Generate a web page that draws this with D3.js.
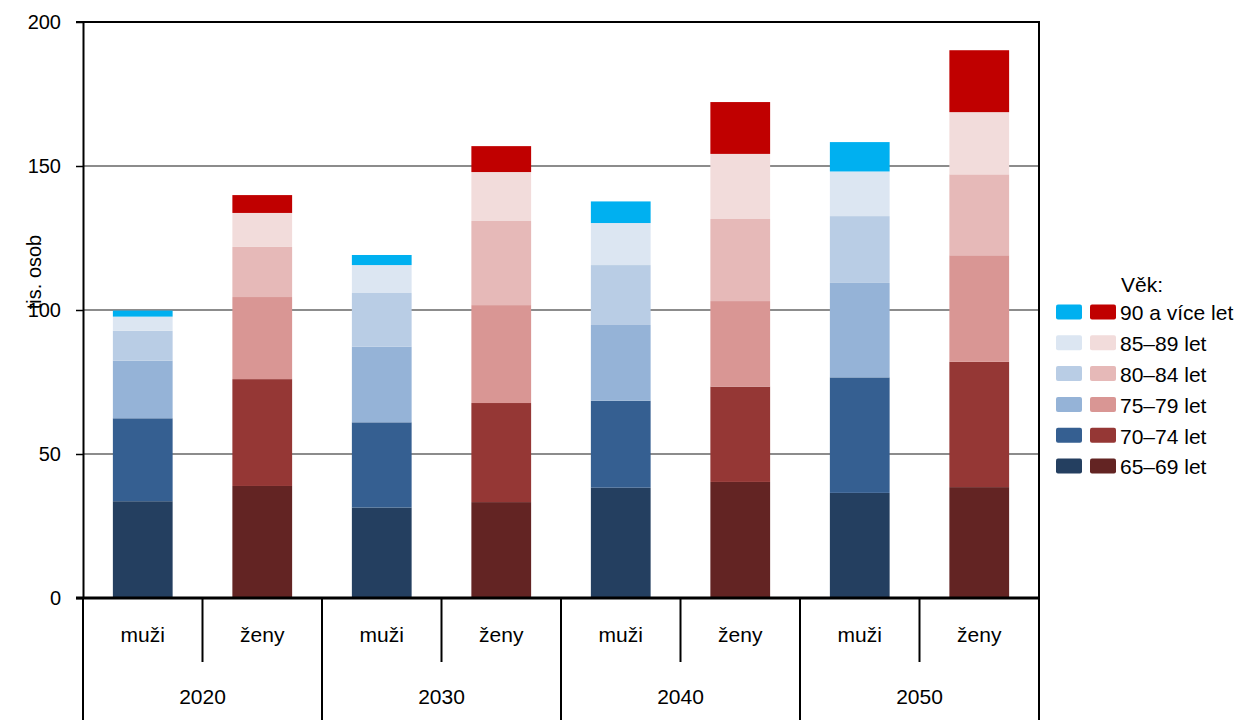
<!DOCTYPE html>
<html>
<head>
<meta charset="utf-8">
<script src="https://cdn.jsdelivr.net/npm/d3@7"></script>
<style>
  body { margin: 0; background: #fff; }
  svg { display: block; font-family: "Liberation Sans", Arial, sans-serif; }
</style>
</head>
<body>
<svg id="chart" width="1237" height="720"></svg>
<script>
// ---- Data ----
const years = ["2020", "2030", "2040", "2050"];
const sexes = ["muži", "ženy"];
const ageGroups = ["65–69 let", "70–74 let", "75–79 let", "80–84 let", "85–89 let", "90 a více let"];
// values in thousands, per age group (order of ageGroups), per year
const muzi = {
  "2020": [33.6, 28.8, 20.0, 10.4, 4.9, 2.1],
  "2030": [31.4, 29.6, 26.3, 18.6, 9.7, 3.5],
  "2040": [38.3, 30.2, 26.3, 20.8, 14.6, 7.5],
  "2050": [36.5, 40.1, 32.8, 23.2, 15.5, 10.2]
};
const zeny = {
  "2020": [38.9, 37.1, 28.5, 17.4, 11.8, 6.2],
  "2030": [33.3, 34.4, 34.0, 29.2, 17.0, 9.0],
  "2040": [40.3, 33.1, 29.7, 28.5, 22.6, 18.0],
  "2050": [38.5, 43.5, 37.0, 28.1, 21.6, 21.5]
};
const yTicks = [0, 50, 100, 150, 200];
const blueColors = ["#243F60", "#355F91", "#95B3D7", "#B9CDE5", "#DCE6F2", "#00B0F0"];
const redColors  = ["#632423", "#953735", "#D99694", "#E6B9B8", "#F2DCDB", "#C00000"];

// ---- Layout ----
const svg = d3.select("#chart");
const plotLeft = 83, plotRight = 1039, plotTop = 22, zeroY = 598, bottomEdge = 720;
const fontSize = 21;
const tickFontSize = 20;

const cats = [];
years.forEach(yr => sexes.forEach(s => cats.push({year: yr, sex: s, key: yr + "|" + s})));

const x = d3.scaleBand().domain(cats.map(c => c.key)).range([plotLeft, plotRight]).paddingInner(0.5).paddingOuter(0.25);
const y = d3.scaleLinear().domain([0, 200]).range([zeroY, plotTop]);

// gridlines
svg.append("g").selectAll("line").data(yTicks.filter(t => t > 0 && t < 200)).join("line")
  .attr("x1", plotLeft).attr("x2", plotRight)
  .attr("y1", d => y(d)).attr("y2", d => y(d))
  .attr("stroke", "#8c8c8c").attr("stroke-width", 2);

// bars
const barsG = svg.append("g");
cats.forEach(c => {
  const vals = c.sex === "muži" ? muzi[c.year] : zeny[c.year];
  const cols = c.sex === "muži" ? blueColors : redColors;
  let cum = 0;
  const segs = vals.map((v, i) => { const s = {y0: cum, y1: cum + v, color: cols[i]}; cum += v; return s; });
  barsG.selectAll(null).data(segs).join("rect")
    .attr("x", x(c.key))
    .attr("width", x.bandwidth())
    .attr("y", d => y(d.y1))
    .attr("height", d => y(d.y0) - y(d.y1))
    .attr("fill", d => d.color);
});

// top & right border
svg.append("line").attr("x1", plotLeft - 7).attr("x2", plotRight + 1).attr("y1", plotTop).attr("y2", plotTop)
  .attr("stroke", "#000").attr("stroke-width", 2);
svg.append("line").attr("x1", plotRight).attr("x2", plotRight).attr("y1", plotTop).attr("y2", bottomEdge)
  .attr("stroke", "#000").attr("stroke-width", 2);

// y axis
const yAxis = d3.axisLeft(y).tickValues(yTicks).tickSize(7).tickPadding(15).tickSizeOuter(0);
const yg = svg.append("g").attr("transform", `translate(${plotLeft},0)`).call(yAxis);
yg.select(".domain").attr("stroke", "#000").attr("stroke-width", 2);
yg.selectAll(".tick line").attr("stroke", "#000").attr("stroke-width", 1.5);
yg.selectAll(".tick text").attr("font-size", tickFontSize).attr("fill", "#000")
  .attr("font-family", "'Liberation Sans', Arial, sans-serif");
// extend left axis line down
svg.append("line").attr("x1", plotLeft).attr("x2", plotLeft).attr("y1", zeroY).attr("y2", bottomEdge)
  .attr("stroke", "#000").attr("stroke-width", 2);

// y axis title
svg.append("text")
  .attr("transform", `translate(41,272) rotate(-90)`)
  .attr("text-anchor", "middle")
  .attr("font-size", tickFontSize)
  .text("tis. osob");

// x axis line
svg.append("line").attr("x1", plotLeft - 7).attr("x2", plotRight).attr("y1", zeroY).attr("y2", zeroY)
  .attr("stroke", "#000").attr("stroke-width", 3);

// category separators
const sepXs = d3.range(1, cats.length).map(i => plotLeft + i * (plotRight - plotLeft) / cats.length);
svg.append("g").selectAll("line").data(sepXs).join("line")
  .attr("x1", d => d).attr("x2", d => d)
  .attr("y1", zeroY)
  .attr("y2", (d, i) => ((i + 1) % 2 === 0) ? bottomEdge : 662)
  .attr("stroke", "#000").attr("stroke-width", 2);

// sex labels
svg.append("g").selectAll("text").data(cats).join("text")
  .attr("x", c => x(c.key) + x.bandwidth() / 2)
  .attr("y", 635)
  .attr("dy", "0.35em")
  .attr("text-anchor", "middle")
  .attr("font-size", fontSize)
  .text(c => c.sex);

// year labels
const yearW = (plotRight - plotLeft) / years.length;
svg.append("g").selectAll("text").data(years).join("text")
  .attr("x", (d, i) => plotLeft + yearW * (i + 0.5))
  .attr("y", 697)
  .attr("dy", "0.35em")
  .attr("text-anchor", "middle")
  .attr("font-size", fontSize)
  .text(d => d);

// legend
const lg = svg.append("g");
lg.append("text").attr("x", 1121).attr("y", 285).attr("dy", "0.35em")
  .attr("font-size", fontSize).text("Věk:");
const legendRows = ageGroups.map((g, i) => ({label: g, blue: blueColors[i], red: redColors[i]})).reverse();
const rowY = d3.scalePoint().domain(legendRows.map(r => r.label)).range([312, 466]);
legendRows.forEach(r => {
  const cy = rowY(r.label);
  lg.append("rect").attr("x", 1056).attr("y", cy - 7.5).attr("width", 26).attr("height", 15)
    .attr("rx", 2).attr("fill", r.blue);
  lg.append("rect").attr("x", 1090).attr("y", cy - 7.5).attr("width", 26).attr("height", 15)
    .attr("rx", 2).attr("fill", r.red);
  lg.append("text").attr("x", 1120).attr("y", cy + 1).attr("dy", "0.35em")
    .attr("font-size", fontSize).text(r.label);
});
</script>
</body>
</html>
